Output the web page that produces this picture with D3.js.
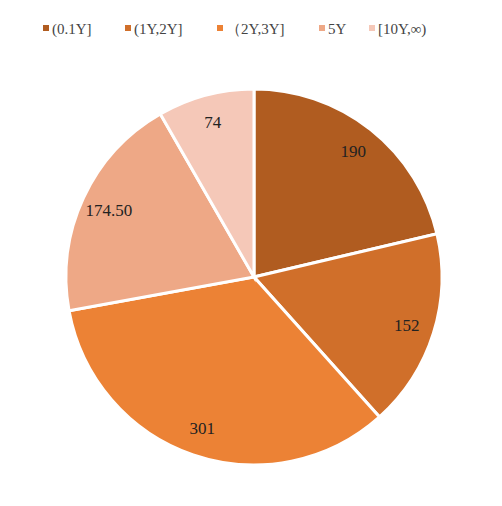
<!DOCTYPE html><html><head><script src="https://cdn.jsdelivr.net/npm/d3@7"></script>
<style>body{margin:0;background:#fff}</style></head><body><svg width="502" height="506"></svg><script>
const categories=["(0.1Y]","(1Y,2Y]","（2Y,3Y]","5Y","[10Y,∞)"];
const values=[190,152,301,174.5,74];
const labels=["190","152","301","174.50","74"];
const colors=["#B05C20","#D06F2A","#EC8235","#EEA886","#F5C8B8"];
const legendX=[46,128,220,322,372];
const svg=d3.select("svg");
const font="'Liberation Serif','DejaVu Serif',serif";
const cx=254,cy=277,r=188;
const pie=d3.pie().sort(null)(values);
const arc=d3.arc().innerRadius(0).outerRadius(r);
const g=svg.append("g").attr("transform",`translate(${cx},${cy})`);
g.selectAll("path").data(pie).join("path").attr("d",arc).attr("fill",(d,i)=>colors[i]).attr("stroke","#fff").attr("stroke-width",3);
const la=d3.arc().innerRadius(160).outerRadius(160);
g.selectAll("text").data(pie).join("text").attr("transform",d=>`translate(${la.centroid(d)})`)
 .attr("text-anchor","middle").attr("dy","0.35em").attr("font-family",font).attr("font-size",17).attr("fill","#222").text((d,i)=>labels[i]);
const lg=svg.append("g");
categories.forEach((c,i)=>{
 lg.append("rect").attr("x",legendX[i]-3).attr("y",25).attr("width",6).attr("height",6).attr("fill",colors[i]);
 lg.append("text").attr("x",legendX[i]+6).attr("y",34).attr("font-family",font).attr("font-size",15).attr("fill","#444").text(c);
});
</script></body></html>
